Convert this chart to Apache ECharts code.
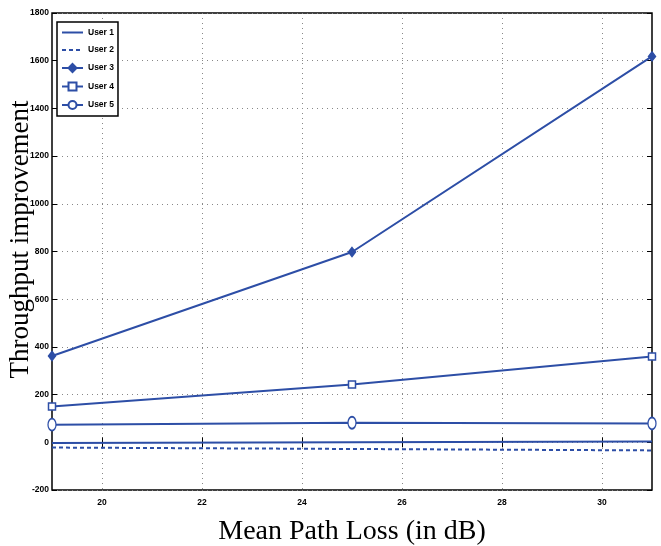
<!DOCTYPE html>
<html>
<head>
    <meta charset="utf-8" />
    <title></title>
    <script src="https://cdn.jsdelivr.net/npm/echarts@6/dist/echarts.min.js"></script>
</head>
<body style="margin:0">
<div id="main" style="width: 661px; height: 546px"></div>
    <script type="text/javascript">
        var pathLoss = [19, 25, 31];
        var user1 = [-3, 0, 3];
        var user2 = [-22, -28, -34];
        var user3 = [362, 798, 1618];
        var user4 = [150, 242, 360];
        var user5 = [74, 82, 79];
        var xTicks = [20, 22, 24, 26, 28, 30];

        var blue = '#2d4ea6';
        var clear = 'rgba(0,0,0,0)';
        var tickFont = {
            fontFamily: '"Liberation Sans", Arial, sans-serif',
            fontWeight: 'bold',
            fontSize: 8.5,
            color: '#000'
        };
        var serif = '"Liberation Serif", "DejaVu Serif", serif';

        function pairs(ys) {
            return pathLoss.map(function (x, i) { return [x, ys[i]]; });
        }

        function mkSeries(name, ys, symbol, size, fill, dashed) {
            var plain = symbol === 'none';
            return {
                name: name,
                type: 'line',
                data: pairs(ys),
                // plain lines keep a see-through symbol so the legend shows only the line
                symbol: plain ? 'circle' : symbol,
                symbolSize: size,
                showSymbol: !plain,
                clip: false,
                animation: false,
                lineStyle: { color: blue, width: 2, type: dashed ? [4, 3] : 'solid' },
                itemStyle: plain ? { color: clear, borderColor: clear } :
                    { color: fill, borderColor: blue, borderWidth: 1.5 }
            };
        }

        var myChart = echarts.init(document.getElementById('main'));
        myChart.setOption({
            animation: false,
            grid: {
                left: 52, right: 9, top: 13, bottom: 56,
                outerBoundsMode: 'none',
                containLabel: false,
                show: true, borderColor: '#000', borderWidth: 1.5
            },
            legend: {
                orient: 'vertical',
                left: 57, top: 22,
                backgroundColor: '#fff',
                borderColor: '#000',
                borderWidth: 1.5,
                padding: [6, 4, 6, 4],
                itemWidth: 21,
                itemHeight: 10,
                itemGap: 8.5,
                textStyle: tickFont,
                data: ['User 1', 'User 2', 'User 3', 'User 4', 'User 5']
            },
            xAxis: [{
                type: 'value',
                min: 19, max: 31,
                name: 'Mean Path Loss (in dB)',
                nameLocation: 'middle',
                nameMoveOverlap: false,
                nameGap: 28,
                nameTextStyle: { fontFamily: serif, fontSize: 28, color: '#000' },
                axisLine: { show: false },
                axisTick: { inside: true, length: 5, customValues: xTicks, lineStyle: { color: '#000', width: 1 } },
                axisLabel: Object.assign({ customValues: xTicks, margin: 8 }, tickFont),
                splitLine: { show: true, lineStyle: { color: '#888', type: [1, 4], width: 1 } }
            }, {
                type: 'value',
                position: 'top',
                min: 19, max: 31,
                axisLine: { show: false },
                axisTick: { inside: true, length: 5, customValues: xTicks, lineStyle: { color: '#000' } },
                axisLabel: { show: false },
                splitLine: { show: false }
            }],
            yAxis: [{
                type: 'value',
                min: -200, max: 1800, interval: 200,
                name: 'Throughput improvement',
                nameLocation: 'middle',
                nameMoveOverlap: false,
                nameGap: 18,
                nameTextStyle: { fontFamily: serif, fontSize: 27, color: '#000', padding: [0, 0, 0, 24] },
                axisLine: { show: false },
                axisTick: { inside: true, length: 5, lineStyle: { color: '#000' } },
                axisLabel: Object.assign({ margin: 3, formatter: function (v) { return String(v); } }, tickFont),
                splitLine: { show: true, lineStyle: { color: '#888', type: [1, 4], width: 1 } }
            }, {
                type: 'value',
                position: 'right',
                min: -200, max: 1800, interval: 200,
                axisLine: { show: false },
                axisTick: { inside: true, length: 5, lineStyle: { color: '#000' } },
                axisLabel: { show: false },
                splitLine: { show: false }
            }],
            series: [
                mkSeries('User 1', user1, 'none', 0, blue, false),
                mkSeries('User 2', user2, 'none', 0, blue, true),
                mkSeries('User 3', user3, 'diamond', [7, 9], blue, false),
                mkSeries('User 4', user4, 'rect', 7, '#fff', false),
                mkSeries('User 5', user5, 'circle', [8, 12], '#fff', false)
            ]
        });
    </script>
</body>
</html>
